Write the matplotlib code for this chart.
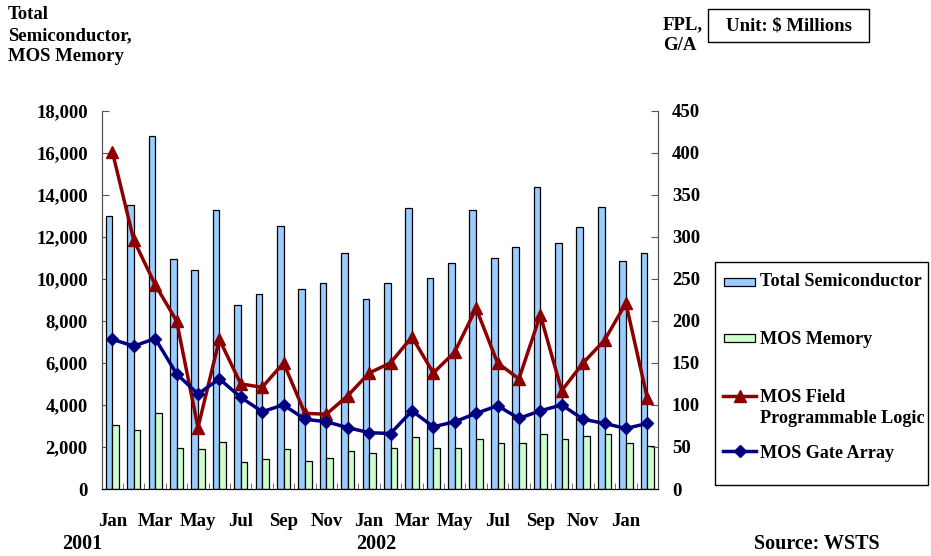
import matplotlib
matplotlib.use("Agg")
import matplotlib.pyplot as plt
import numpy as np
from matplotlib.patches import Rectangle
from matplotlib.lines import Line2D

months = ["Jan", "Feb", "Mar", "Apr", "May", "Jun", "Jul", "Aug", "Sep", "Oct", "Nov", "Dec",
          "Jan", "Feb", "Mar", "Apr", "May", "Jun", "Jul", "Aug", "Sep", "Oct", "Nov", "Dec",
          "Jan", "Feb"]
total_semi = [12970, 13490, 16780, 10940, 10410, 13270, 8750, 9270, 12510, 9510, 9810, 11220, 9050,
              9810, 13360, 10030, 10740, 13270, 10980, 11510, 14350, 11700, 12460, 13440, 10840, 11220]
mos_memory = [3030, 2830, 3630, 1970, 1890, 2220, 1270, 1410, 1890, 1330, 1460, 1810, 1700,
              1970, 2490, 1970, 1970, 2370, 2170, 2170, 2600, 2370, 2540, 2600, 2170, 2060]
mos_fpl = [401, 296, 243, 200, 73, 178, 125, 121, 150, 90, 89, 111, 138,
           150, 181, 138, 163, 215, 150, 131, 207, 117, 150, 177, 221, 108]
mos_ga = [178, 170, 179, 137, 113, 131, 109, 92, 100, 83, 80, 73, 67,
          66, 93, 74, 80, 90, 99, 84, 93, 100, 83, 78, 72, 78]
left_ticks = [0, 2000, 4000, 6000, 8000, 10000, 12000, 14000, 16000, 18000]
right_ticks = [0, 50, 100, 150, 200, 250, 300, 350, 400, 450]
year_labels = ["2001", "2002"]

plt.rcParams['font.family'] = ['Liberation Serif', 'DejaVu Serif']
plt.rcParams['font.weight'] = 'bold'
FS = 13.5
LFS = 13.1

W, H = 931, 556
fig = plt.figure(figsize=(W / 100, H / 100), dpi=100)

def fx(px):
    return px / W

def fy(py):
    return 1 - py / H

ax = fig.add_axes([fx(101.7), fy(489), fx(658 - 101.7), (489 - 110.7) / H])
ax2 = ax.twinx()

x = np.arange(len(months))
bw = 0.31
ax.bar(x - bw / 2, total_semi, width=bw, color="#99CCFF", edgecolor="black", linewidth=0.9, zorder=2)
ax.bar(x + bw / 2, mos_memory, width=bw, color="#CCFFCC", edgecolor="black", linewidth=0.9, zorder=2)
ax.set_ylim(0, 18000)
ax.set_xlim(-0.5, len(months) - 0.5)
ax.set_yticks(left_ticks)
ax.set_yticklabels([f"{v:,}" for v in left_ticks], fontsize=FS, fontweight='bold')

ax2.plot(x, mos_fpl, color="#8B0000", linewidth=2.5, marker="^", markersize=9, zorder=4)
ax2.plot(x, mos_ga, color="#000080", linewidth=2.5, marker="D", markersize=6.5, zorder=4)
ax2.set_ylim(0, 450)
ax2.set_yticks(right_ticks)
ax2.set_yticklabels([str(v) for v in right_ticks], fontsize=FS, fontweight='bold')

for a in (ax, ax2):
    a.spines['top'].set_visible(False)
    a.spines['left'].set_color('#555555')
    a.spines['right'].set_color('#555555')
    a.spines['bottom'].set_color('black')
    a.patch.set_visible(False)

ax.tick_params(axis='y', direction='in', length=5, pad=10, color='#555555')
ax2.tick_params(axis='y', direction='in', length=5, pad=10, color='#555555')

ax.set_xticks(x[::2])
ax.set_xticklabels(months[::2], fontsize=FS, fontweight='bold')
ax.set_xticks(np.arange(-0.5, len(months), 1.0), minor=True)
ax.tick_params(axis='x', which='major', length=0, pad=17)
ax.tick_params(axis='x', which='minor', direction='in', length=4, color='#555555')

fig.text(fx(82), fy(544), year_labels[0], fontsize=FS + 1, fontweight='bold', ha='center', va='center')
fig.text(fx(376), fy(544), year_labels[1], fontsize=FS + 1, fontweight='bold', ha='center', va='center')

# titles
fig.text(fx(8), fy(6), "Total\nSemiconductor,\nMOS Memory", fontsize=FS, fontweight='bold',
         ha='left', va='top', linespacing=1.32)
fig.text(fx(663), fy(16), "FPL,\nG/A", fontsize=FS, fontweight='bold', ha='left', va='top', linespacing=1.32)
fig.patches.append(Rectangle((fx(708), fy(42)), fx(869 - 708), (42 - 9) / H, transform=fig.transFigure,
                             facecolor='white', edgecolor='black', linewidth=1.0))
fig.text(fx(788.5), fy(26), "Unit: $ Millions", fontsize=FS, fontweight='bold', ha='center', va='center')
fig.text(fx(817), fy(544), "Source: WSTS", fontsize=FS + 1, fontweight='bold', ha='center', va='center')

# legend (manual)
fig.patches.append(Rectangle((fx(715), fy(485)), fx(928 - 715), (485 - 262) / H, transform=fig.transFigure,
                             facecolor='white', edgecolor='black', linewidth=1.0))
fig.patches.append(Rectangle((fx(724), fy(286)), fx(31), 8.5 / H, transform=fig.transFigure,
                             facecolor="#99CCFF", edgecolor="black", linewidth=0.9))
fig.patches.append(Rectangle((fx(724), fy(342)), fx(31), 8.5 / H, transform=fig.transFigure,
                             facecolor="#CCFFCC", edgecolor="black", linewidth=0.9))
fig.lines.append(Line2D([fx(723), fx(739.5), fx(756)], [fy(396)] * 3, transform=fig.transFigure,
                        color="#8B0000", linewidth=2.5, marker="^", markersize=8, markevery=[1]))
fig.lines.append(Line2D([fx(723), fx(739.5), fx(756)], [fy(451)] * 3, transform=fig.transFigure,
                        color="#000080", linewidth=2.5, marker="D", markersize=6, markevery=[1]))
fig.text(fx(760), fy(282), "Total Semiconductor", fontsize=LFS, fontweight='bold', ha='left', va='center')
fig.text(fx(760), fy(339), "MOS Memory", fontsize=LFS, fontweight='bold', ha='left', va='center')
fig.text(fx(760), fy(408), "MOS Field\nProgrammable Logic", fontsize=LFS, fontweight='bold', ha='left',
         va='center', linespacing=1.25)
fig.text(fx(760), fy(453), "MOS Gate Array", fontsize=LFS, fontweight='bold', ha='left', va='center')

fig.savefig("out.png", dpi=100, facecolor='white')
